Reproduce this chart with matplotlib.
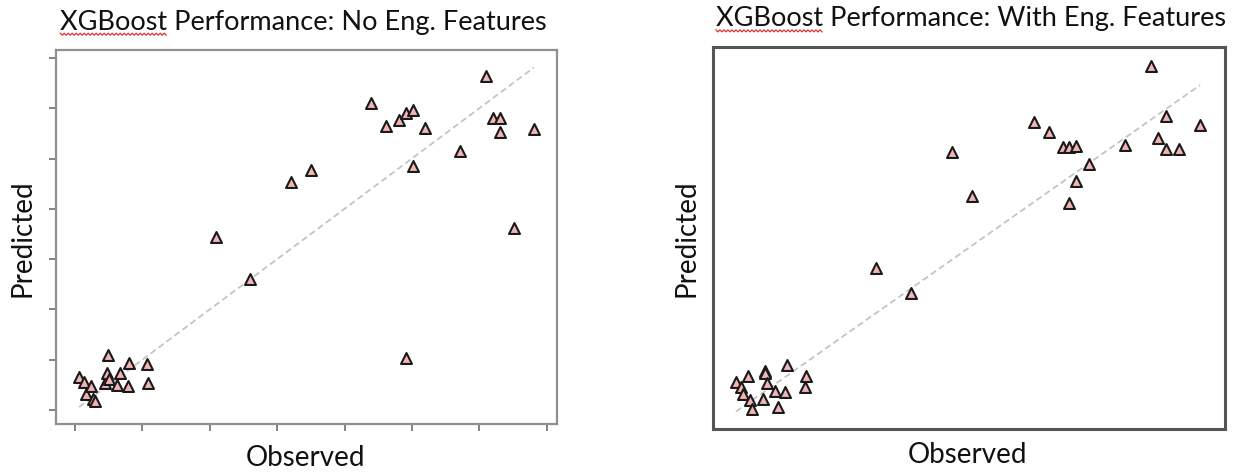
import numpy as np
import matplotlib
matplotlib.use('Agg')
import matplotlib.pyplot as plt
from matplotlib.lines import Line2D

# observed values are shared by both models (same test set)
observed = [0.3, 0.7, 0.85, 1.2, 1.33, 1.48, 2.25, 2.4, 2.45, 2.55, 3.15, 3.37, 3.9, 4.0, 5.35, 5.4,
            10.5, 13.0, 16.0, 17.5, 22.0, 23.1, 24.05, 24.55, 24.55, 25.05, 25.05, 26.0, 28.6,
            30.5, 31.0, 31.55, 31.55, 32.55, 34.05]

pred_no_eng = [3.28, 2.78, 1.59, 2.39, 1.09, 0.89, 2.68, 3.68, 5.47, 3.08, 2.49, 3.68, 2.39, 4.67, 4.57, 2.68,
               17.2, 13.0, 22.7, 23.9, 30.5, 28.2, 28.8, 29.5, 5.2, 29.8, 24.3, 28.0, 25.7,
               33.2, 29.0, 29.0, 27.6, 18.1, 27.9]

pred_eng = [3.34, 2.88, 2.13, 3.99, 1.51, 0.61, 1.58, 4.54, 4.3, 3.3, 2.47, 0.82, 2.37, 5.12, 2.88, 3.99,
            15.1, 12.6, 27.1, 22.6, 30.2, 29.2, 27.6, 27.7, 21.9, 27.75, 24.1, 25.9, 27.85,
            36.0, 28.6, 30.8, 27.4, 27.4, 29.9]

titles = ['XGBoost Performance: No Eng. Features', 'XGBoost Performance: With Eng. Features']
tick_vals = [0, 5, 10, 15, 20, 25, 30, 35]

plt.rcParams['font.family'] = ['Lato', 'DejaVu Sans']

fig = plt.figure(figsize=(12.41, 4.72), dpi=100)
ax1 = fig.add_axes([0.0451, 0.1017, 0.4037, 0.7924])
ax2 = fig.add_axes([0.5745, 0.0911, 0.4126, 0.8093])

lo, hi = min(observed), max(observed)


def draw_panel(ax, pred, frame_col, frame_lw):
    ax.plot([lo, hi], [lo, hi], color='#c4c4c4', lw=1.3, dashes=(3.5, 2), zorder=1)
    ax.scatter(observed, pred, marker='^', s=62, facecolor='#f2b4b4',
               edgecolor='#1a1a1a', linewidth=1.5, zorder=3)
    for sp in ax.spines.values():
        sp.set_color(frame_col)
        sp.set_linewidth(frame_lw)


draw_panel(ax1, pred_no_eng, '#8f8f8f', 1.6)
ax1.set_xlim(-1.41, 35.76)
ax1.set_ylim(-1.39, 35.79)
ax1.set_xticks(tick_vals)
ax1.set_yticks(tick_vals)
ax1.set_xticklabels([''] * len(tick_vals))
ax1.set_yticklabels([''] * len(tick_vals))
ax1.tick_params(length=5, width=1.3, color='#7a7a7a')

draw_panel(ax2, pred_eng, '#555555', 2.2)
ax2.set_xlim(-1.37, 35.86)
ax2.set_ylim(-1.49, 37.98)
ax2.set_xticks([])
ax2.set_yticks([])

# titles and axis labels
t1 = fig.text(0.2446, 0.953, titles[0], ha='center', va='center', fontsize=19.5, color='#111111')
t2 = fig.text(0.7824, 0.960, titles[1], ha='center', va='center', fontsize=19.5, color='#111111')
fig.text(0.246, 0.030, 'Observed', ha='center', va='center', fontsize=20, color='#111111')
fig.text(0.780, 0.036, 'Observed', ha='center', va='center', fontsize=20, color='#111111')
fig.text(0.018, 0.496, 'Predicted', ha='center', va='center', rotation=90, fontsize=20, color='#111111')
fig.text(0.553, 0.496, 'Predicted', ha='center', va='center', rotation=90, fontsize=20, color='#111111')

# red spell-check squiggle under "XGBoost", like in the screenshot
fig.canvas.draw()
renderer = fig.canvas.get_renderer()
W, H = fig.bbox.width, fig.bbox.height
for t in (t1, t2):
    bb = t.get_window_extent(renderer)
    probe = fig.text(0, 0, 'XGBoost', fontsize=t.get_fontsize())
    wb = probe.get_window_extent(renderer).width
    probe.remove()
    xs = np.arange(bb.x0, bb.x0 + wb, 2.0)
    ys = bb.y0 + 1.5 + np.where(np.arange(len(xs)) % 2 == 0, 0, -2.0)
    fig.add_artist(Line2D(xs / W, ys / H, transform=fig.transFigure,
                          color='#e03030', lw=0.9))

fig.savefig('out.png', dpi=100)
